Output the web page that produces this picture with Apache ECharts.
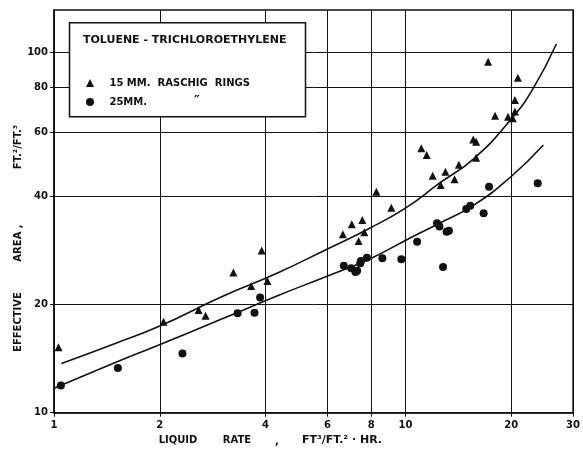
<!DOCTYPE html>
<html>
<head>
<meta charset="utf-8">
<script src="https://cdn.jsdelivr.net/npm/echarts@6/dist/echarts.min.js"></script>
<style>html,body{margin:0;padding:0;background:#fff}#c{width:583px;height:453px}</style>
</head>
<body>
<div id="c"></div>
<script>
// Liquid rate (ft3/ft2.hr) vs effective area (ft2/ft3)
const rings15 = [
  [1.03,15.2],[2.05,17.9],[2.58,19.3],[2.70,18.6],[3.24,24.5],[3.64,22.5],[3.90,28.2],[4.05,23.2],
  [6.64,31.3],[7.04,33.4],[7.54,34.3],[7.36,30.0],[7.64,31.7],[8.27,41.1],[9.12,37.1],
  [11.1,54.3],[11.5,52.0],[11.96,45.5],[12.6,42.9],[13.0,46.7],[13.8,44.5],[14.2,48.8],
  [15.6,57.4],[15.9,56.6],[15.9,51.1],[17.2,94.4],[18.0,66.8],[19.6,66.4],[20.2,65.7],
  [20.5,68.6],[20.5,73.9],[20.9,85.2]
];
const rings25 = [
  [1.046,11.9],[1.52,13.3],[2.32,14.6],[3.33,18.9],[3.72,18.95],[3.86,20.9],
  [6.68,25.6],[7.01,25.2],[7.21,24.6],[7.29,24.8],[7.44,26.0],[7.47,26.4],[7.77,26.96],
  [8.60,26.85],[9.74,26.7],[10.8,29.85],[12.3,33.6],[12.5,32.9],[12.8,25.4],[13.1,31.8],
  [13.3,32.0],[14.9,36.8],[15.3,37.6],[16.7,35.8],[17.3,42.4],[23.8,43.4]
];
const curve15 = [
  [1.05,13.7],[1.5,15.6],[2,17.4],[3,21.0],[4.31,24.4],[6,28.5],[7.89,32.5],[10,37.0],
  [12.5,43.4],[15.7,50.9],[19.9,65.0],[23,79.0],[26.9,105.7]
];
const curve25 = [
  [1.0,11.7],[1.5,13.8],[1.98,15.4],[3,18.2],[4.31,21.1],[5.96,23.9],[7.89,26.7],[10,30.1],
  [12.5,33.6],[15.7,37.8],[20,45.3],[24.7,55.4]
];
const xTicks = [1,2,4,6,8,10,20,30];
const yTicks = [10,20,40,60,80,100];
const seriesNames = ['15 MM.  RASCHIG  RINGS','25MM.'];
const legendTitle = 'TOLUENE - TRICHLOROETHYLENE';

const FONT = 'DejaVu Sans';
const chart = echarts.init(document.getElementById('c'), null, {renderer:'canvas'});
chart.setOption({
  backgroundColor:'#fff',
  animation:false,
  grid:{left:54, right:4.5, top:10, bottom:40.3, show:true, borderColor:'#111', borderWidth:1.5, backgroundColor:'transparent'},
  xAxis:{
    type:'log', logBase:10, min:1, max:30,
    axisLine:{show:true, lineStyle:{color:'#111', width:1.5}},
    axisTick:{show:true, inside:false, length:4, customValues:xTicks, lineStyle:{color:'#111'}},
    axisLabel:{customValues:xTicks, margin:8, color:'#111', fontFamily:FONT, fontSize:10, fontWeight:'bold', showMinLabel:true, showMaxLabel:true},
    splitLine:{show:true, lineStyle:{color:'#111', width:1}},
    minorTick:{show:false}, minorSplitLine:{show:false}
  },
  yAxis:{
    type:'log', logBase:10, min:10, max:131.4,
    axisLine:{show:true, lineStyle:{color:'#111', width:1.5}},
    axisTick:{show:true, inside:false, length:4, customValues:yTicks, lineStyle:{color:'#111'}},
    axisLabel:{customValues:yTicks, margin:6, color:'#111', fontFamily:FONT, fontSize:10, fontWeight:'bold'},
    splitLine:{show:true, lineStyle:{color:'#111', width:1}},
    minorTick:{show:false}, minorSplitLine:{show:false}
  },
  legend:{
    show:true, orient:'vertical', left:81, top:73, itemGap:9, itemWidth:8, itemHeight:8,
    data:[{name:seriesNames[0], icon:'triangle'},{name:seriesNames[1], icon:'circle'}],
    formatter: function(n){ return '   ' + n; },
    textStyle:{color:'#111', fontFamily:FONT, fontSize:10, fontWeight:'bold'},
    selectedMode:false, z:10
  },
  graphic:{elements:[
    {type:'rect', z:5, shape:{x:69.5, y:22.7, width:236, height:94}, style:{fill:'#fff', stroke:'#111', lineWidth:1.5}},
    {type:'text', z:11, left:83, top:35, style:{text:legendTitle, fill:'#111', font:'bold 11px "DejaVu Sans"'}},
    {type:'text', z:11, left:194, top:94, style:{text:'″', fill:'#111', font:'bold 13px "DejaVu Sans"'}},
    {type:'text', z:11, x:18, y:322, rotation:Math.PI/2, style:{text:'EFFECTIVE', fill:'#111', font:'bold 10px "DejaVu Sans"', align:'center', verticalAlign:'middle'}},
    {type:'text', z:11, x:18, y:243, rotation:Math.PI/2, style:{text:'AREA ,', fill:'#111', font:'bold 10px "DejaVu Sans"', align:'center', verticalAlign:'middle'}},
    {type:'text', z:11, x:18, y:147, rotation:Math.PI/2, style:{text:'FT.²/FT.³', fill:'#111', font:'bold 10px "DejaVu Sans"', align:'center', verticalAlign:'middle'}},
    {type:'text', z:11, x:178, y:440, style:{text:'LIQUID', fill:'#111', font:'bold 10px "DejaVu Sans"', align:'center', verticalAlign:'middle'}},
    {type:'text', z:11, x:237, y:440, style:{text:'RATE', fill:'#111', font:'bold 10px "DejaVu Sans"', align:'center', verticalAlign:'middle'}},
    {type:'text', z:11, x:277, y:441, style:{text:',', fill:'#111', font:'bold 10px "DejaVu Sans"', align:'center', verticalAlign:'middle'}},
    {type:'text', z:11, x:342, y:440, style:{text:'FT³/FT.² · HR.', fill:'#111', font:'bold 11px "DejaVu Sans"', align:'center', verticalAlign:'middle'}}
  ]},
  series:[
    {name:seriesNames[0], type:'scatter', data:rings15, symbol:'triangle', symbolSize:[8,8], itemStyle:{color:'#111', opacity:1}, z:4},
    {name:seriesNames[1], type:'scatter', data:rings25, symbol:'circle', symbolSize:8, itemStyle:{color:'#111', opacity:1}, z:4},
    {name:'fit15', type:'line', data:curve15, smooth:true, showSymbol:false, symbol:'none', lineStyle:{color:'#111', width:1.6}, z:3},
    {name:'fit25', type:'line', data:curve25, smooth:true, showSymbol:false, symbol:'none', lineStyle:{color:'#111', width:1.6}, z:3}
  ]
});
</script>
</body>
</html>
